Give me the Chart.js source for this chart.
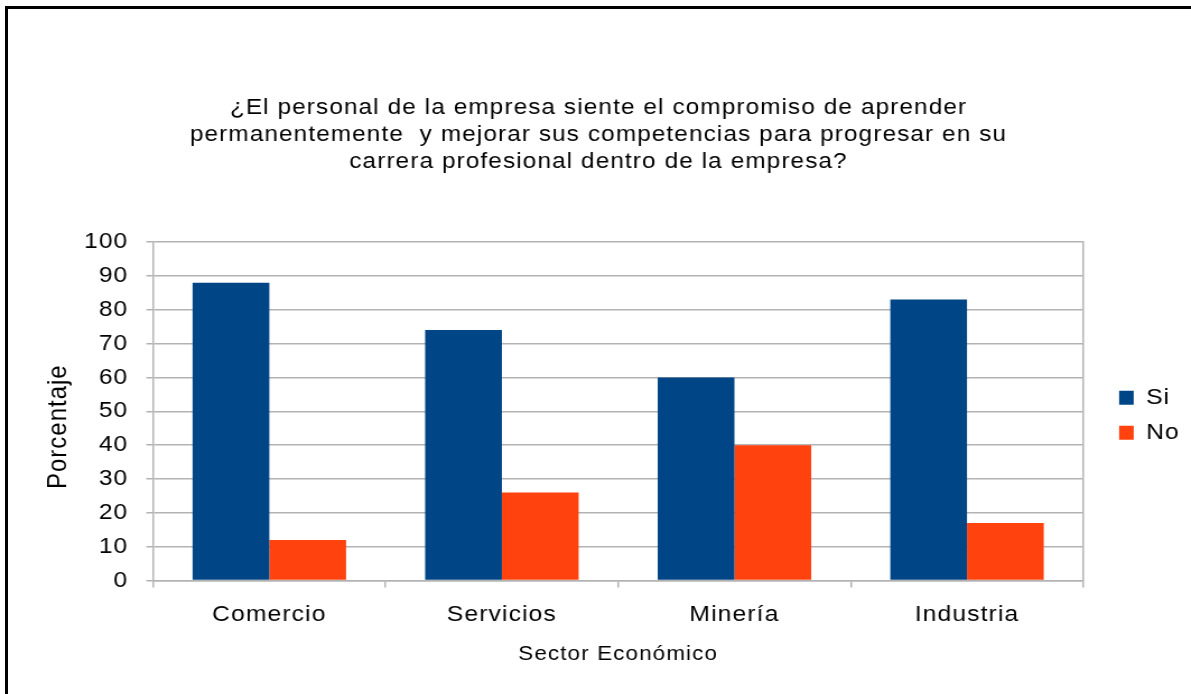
<!DOCTYPE html>
<html lang="es">
<head>
    <meta charset="UTF-8">
    <title>Compromiso de aprendizaje por sector</title>
    <script src="https://cdn.jsdelivr.net/npm/chart.js"></script>
    <style>
        html, body { margin: 0; padding: 0; background: #fff; overflow: hidden; }
        #wrap { position: relative; width: 1191px; height: 694px; overflow: hidden; }
        /* marco negro del gráfico (sólo se ven los bordes superior e izquierdo) */
        #marco {
            position: absolute; left: 5px; top: 6px; width: 1300px; height: 800px;
            border-left: 3px solid #000; border-top: 3px solid #000;
            pointer-events: none;
        }
        /* el lienzo se dibuja más estrecho y se ensancha: letras anchas */
        #grafico {
            position: absolute; left: 0; top: 0;
            transform-origin: 0 0;
            transform: scaleX(1.1204);
        }
    </style>
</head>
<body>
<div id="wrap">
    <canvas id="grafico" width="1063" height="694"></canvas>
    <div id="marco"></div>
</div>
<script>
    // datos de la encuesta (%)
    var sectores = ['Comercio', 'Servicios', 'Minería', 'Industria'];
    var valoresSi = [88, 74, 60, 83];
    var valoresNo = [12, 26, 40, 17];
    var ticksY = [0, 10, 20, 30, 40, 50, 60, 70, 80, 90, 100];

    var titulo = [
        '¿El personal de la empresa siente el compromiso de aprender',
        'permanentemente  y mejorar sus competencias para progresar en su',
        'carrera profesional dentro de la empresa?'
    ];

    var fuente = '"Liberation Sans", Arial, sans-serif';
    var gris = '#b3b3b3';

    // espaciado de letras en todos los textos del lienzo
    var espaciado = {
        id: 'espaciado',
        beforeUpdate: function (chart) { chart.ctx.letterSpacing = '1px'; },
        beforeDraw: function (chart) { chart.ctx.letterSpacing = '1px'; }
    };

    var ctx = document.getElementById('grafico').getContext('2d');
    new Chart(ctx, {
        type: 'bar',
        data: {
            labels: sectores,
            datasets: [{
                label: 'Si',
                data: valoresSi,
                backgroundColor: '#004586',
                borderWidth: 0
            }, {
                label: 'No',
                data: valoresNo,
                backgroundColor: '#ff420e',
                borderWidth: 0
            }]
        },
        options: {
            responsive: false,
            animation: false,
            devicePixelRatio: 1,
            layout: { padding: { left: 5.4, right: 0, top: 0, bottom: 28 } },
            datasets: {
                bar: { categoryPercentage: 0.66, barPercentage: 1.0 }
            },
            plugins: {
                tooltip: { enabled: false },
                title: {
                    display: true,
                    text: titulo,
                    color: '#000',
                    font: { family: fuente, size: 21.7, weight: 'normal', lineHeight: 1.26 },
                    padding: { top: 94, bottom: 66 }
                },
                legend: {
                    position: 'right',
                    fullSize: false,
                    // título vacío: sólo baja un poco los elementos de la leyenda
                    title: {
                        display: true,
                        text: '',
                        font: { size: 0 },
                        padding: { top: 8, bottom: 0 }
                    },
                    labels: {
                        color: '#000',
                        boxWidth: 13,
                        boxHeight: 14,
                        padding: 13,
                        font: { family: fuente, size: 22 }
                    }
                }
            },
            scales: {
                x: {
                    offset: true,
                    grid: {
                        offset: true,
                        drawOnChartArea: false,
                        drawTicks: true,
                        tickLength: 7,
                        color: gris,
                        lineWidth: 1.5
                    },
                    border: { color: gris, width: 1.5 },
                    ticks: {
                        color: '#000',
                        padding: 14,
                        font: { family: fuente, size: 22 }
                    },
                    title: {
                        display: true,
                        text: 'Sector Económico',
                        color: '#000',
                        font: { family: fuente, size: 20 },
                        padding: { top: 0, bottom: 0 }
                    }
                },
                y: {
                    min: 0,
                    max: 100,
                    afterFit: function (scale) { scale.width = 131.2; },
                    afterBuildTicks: function (scale) {
                        scale.ticks = ticksY.map(function (v) { return { value: v }; });
                    },
                    grid: {
                        color: gris,
                        lineWidth: 1.5,
                        tickLength: 6
                    },
                    border: { color: gris, width: 1.5 },
                    ticks: {
                        color: '#000',
                        padding: 16,
                        font: { family: fuente, size: 22 }
                    },
                    title: {
                        display: true,
                        // espacios finales: el rótulo queda algo por debajo del centro
                        text: 'Porcentaje    ',
                        color: '#000',
                        font: { family: fuente, size: 24 },
                        padding: { top: 33, bottom: 0 }
                    }
                },
                // eje derecho sin marcas: cierra el área de trazado y separa la leyenda
                yDer: {
                    position: 'right',
                    display: true,
                    min: 0,
                    max: 100,
                    afterFit: function (scale) { scale.width = 19; },
                    grid: { drawOnChartArea: false, drawTicks: false },
                    border: { color: gris, width: 1.5 },
                    ticks: { display: false }
                }
            }
        },
        plugins: [espaciado]
    });
</script>
</body>
</html>
